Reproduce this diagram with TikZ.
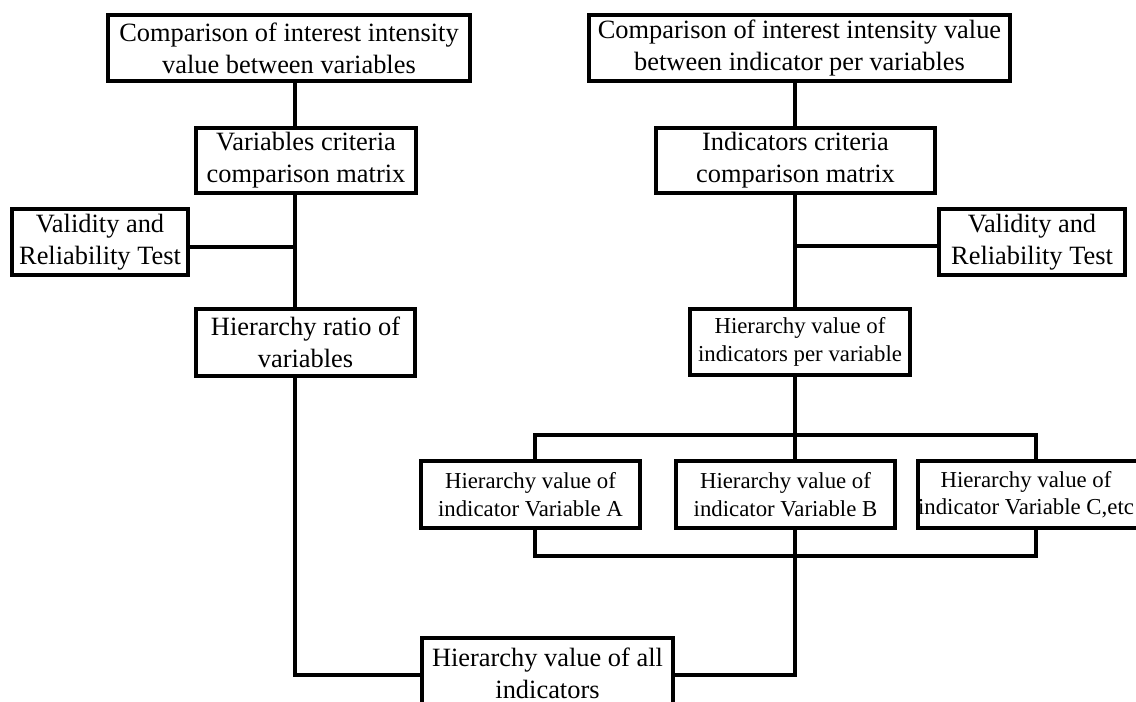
\documentclass[tikz,border=0pt]{standalone}
\usepackage{fontspec}
\setmainfont{Liberation Serif}
\usetikzlibrary{positioning}
\tikzset{
    mainbox/.style={rectangle, draw=black, line width=3pt, fill=white, align=center, inner sep=0pt, font=\fontsize{19.8}{23.8}\selectfont},
    subbox/.style={rectangle, draw=black, line width=3pt, fill=white, align=center, inner sep=0pt, font=\fontsize{17.1}{20.5}\selectfont},
    subtext/.style={align=center, inner sep=0pt, font=\fontsize{17.1}{20.5}\selectfont},
    link/.style={line width=3pt}
}

\begin{document}
\begin{tikzpicture}[x=0.75pt, y=-0.75pt]
    \clip (0,0) rectangle (1136,702);

    % Left column
    \node[mainbox, minimum width=271.5pt, minimum height=49.5pt] (L1) at (289,48) {Comparison of interest intensity\\value between variables};
    \node[mainbox, minimum width=165pt, minimum height=48.75pt] (L2) at (306,160.5) {Variables criteria\\comparison matrix};
    \node[mainbox, minimum width=132pt, minimum height=49.5pt] (VL) at (100,242) {Validity and\\Reliability Test};
    \node[mainbox, minimum width=164.25pt, minimum height=50.25pt] (L3) at (305.5,342.5) {Hierarchy ratio of\\variables};

    % Right column
    \node[mainbox, minimum width=315.75pt, minimum height=49.5pt] (R1) at (799.5,48) {Comparison of interest intensity value\\between indicator per variables};
    \node[mainbox, minimum width=209.25pt, minimum height=48.75pt] (R2) at (795.5,160.5) {Indicators criteria\\comparison matrix};
    \node[mainbox, minimum width=139.5pt, minimum height=49.5pt] (VR) at (1032,242) {Validity and\\Reliability Test};
    \node[subbox, minimum width=165pt, minimum height=49.5pt] (R3) at (800,342) {Hierarchy value of\\indicators per variable};

    % Variables A, B, C
    \node[subbox, minimum width=164.25pt, minimum height=50.25pt] (A) at (530.5,494.5) {Hierarchy value of\\indicator Variable A};
    \node[subbox, minimum width=164.25pt, minimum height=50.25pt] (B) at (785.5,494.5) {Hierarchy value of\\indicator Variable B};
    \node[subbox, minimum width=177pt, minimum height=50.25pt] (C) at (1036,494.5) {};
    \node[subtext] (Ctext) at ([xshift=-7.5pt]C.center) {Hierarchy value of\\indicator Variable C,etc};

    % Result
    \node[mainbox, minimum width=188.25pt, minimum height=52.5pt] (Fin) at (547.5,673) {Hierarchy value of all\\indicators};

    % Junctions
    \coordinate (trunkL) at (295,0);
    \coordinate (trunkR) at (795,0);
    \coordinate (brA) at (535,0);
    \coordinate (jVL) at (295,247);
    \coordinate (jVR) at (795,246);
    \coordinate (brTop) at (795,435);
    \coordinate (brBot) at (795,556);
    \coordinate (jFin) at (0,675);

    % Connectors
    \draw[link] (L1.south -| trunkL) -- (L2.north -| trunkL);
    \draw[link] (L2.south -| trunkL) -- (L3.north -| trunkL);
    \draw[link] (VL.east |- jVL) -- (jVL);
    \draw[link] (R1.south -| trunkR) -- (R2.north -| trunkR);
    \draw[link] (R2.south -| trunkR) -- (R3.north -| trunkR);
    \draw[link] (VR.west |- jVR) -- (jVR);
    \draw[link] (R3.south -| trunkR) -- (brTop);
    \draw[link] (A.north -| brA) -- (brA |- brTop) -- (C.north |- brTop) -- (C.north);
    \draw[link] (brTop) -- (B.north -| trunkR);
    \draw[link] (A.south -| brA) -- (brA |- brBot) -- (C.south |- brBot) -- (C.south);
    \draw[link] (B.south -| trunkR) -- (brBot);
    \draw[link] (L3.south -| trunkL) -- (trunkL |- jFin) -- (Fin.west |- jFin);
    \draw[link] (brBot) -- (trunkR |- jFin) -- (Fin.east |- jFin);
\end{tikzpicture}
\end{document}
